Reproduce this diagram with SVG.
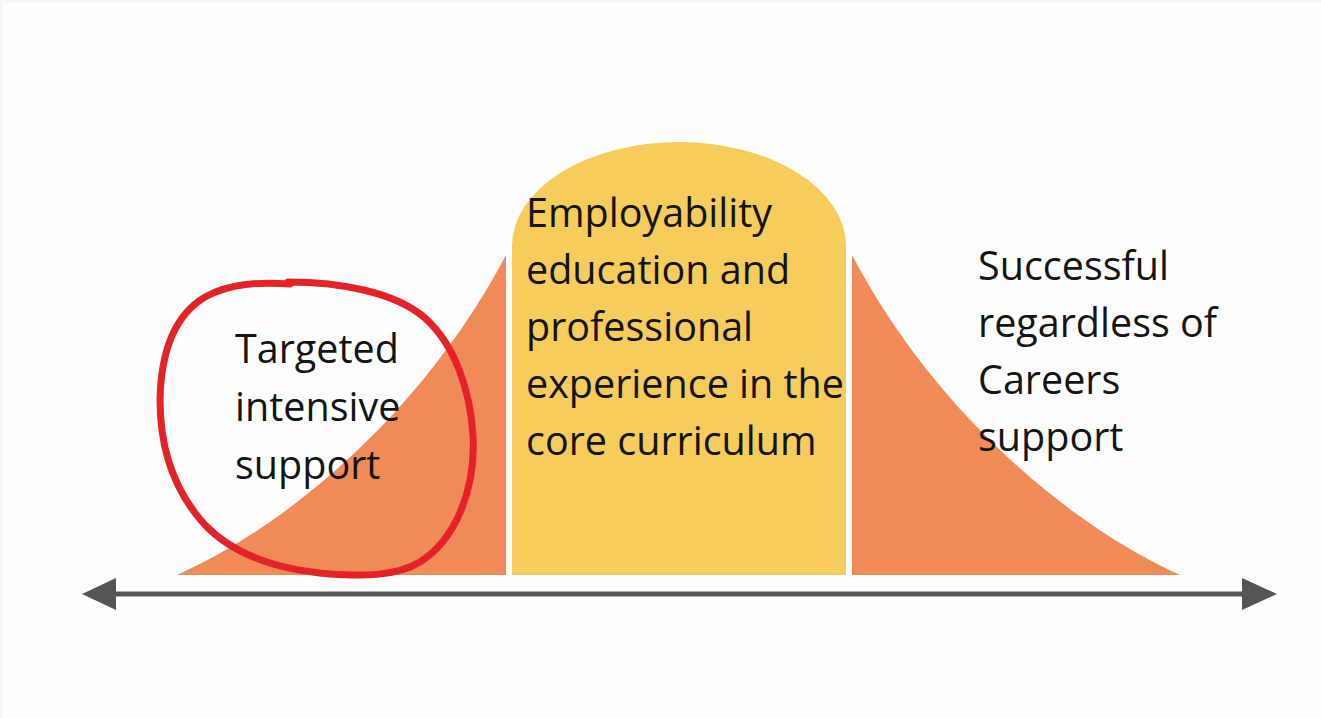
<svg xmlns="http://www.w3.org/2000/svg" width="1321" height="718" viewBox="0 0 1321 718">
<style>
.lbl{font-family:"Open Sans","Noto Sans","Liberation Sans",sans-serif;font-size:39.5px;fill:#141414}
.tail{fill:#F08A58}
.mid{fill:#F6CC5C}
</style>
<rect x="0" y="0" width="1321" height="718" fill="#f6f6f6"/>
<rect x="3" y="3" width="1318" height="715" fill="#fefefe"/>
<g id="left-tail">
<path class="tail" d="M177,575 C300,520 430,400 506,255 L506,575 Z"/>
<text class="lbl" x="235" y="363">Targeted</text>
<text class="lbl" x="235" y="421">intensive</text>
<text class="lbl" x="235" y="479">support</text>
</g>
<g id="centre">
<path class="mid" d="M512,575 L512,246 A167,104 0 0 1 846,246 L846,575 Z"/>
<text class="lbl" x="526" y="227">Employability</text>
<text class="lbl" x="526" y="284">education and</text>
<text class="lbl" x="526" y="341">professional</text>
<text class="lbl" x="526" y="398">experience in the</text>
<text class="lbl" x="526" y="455">core curriculum</text>
</g>
<g id="right-tail">
<path class="tail" d="M852,255 C928,400 1058,520 1180,575 L852,575 Z"/>
<text class="lbl" x="978" y="280">Successful</text>
<text class="lbl" x="978" y="337">regardless of</text>
<text class="lbl" x="978" y="394">Careers</text>
<text class="lbl" x="978" y="451">support</text>
</g>
<g id="highlight">
<path d="M288,282 C340,282 395,292 425,318 C455,345 470,390 473,435 C476,490 455,540 420,562 C395,577 360,576 330,574 C280,570 235,556 205,525 C175,492 160,450 160,400 C161,350 175,315 205,297 C230,283 260,282 290,284" fill="none" stroke="#E3222A" stroke-width="7" stroke-linecap="round" stroke-linejoin="round"/>
</g>
<g id="connectors">
<line x1="116" y1="594" x2="1242" y2="594" stroke="#555555" stroke-width="5"/>
<path d="M82,594 L116,578 L116,610 Z" fill="#555555"/>
<path d="M1277,594 L1242,578 L1242,610 Z" fill="#555555"/>
</g>
</svg>
